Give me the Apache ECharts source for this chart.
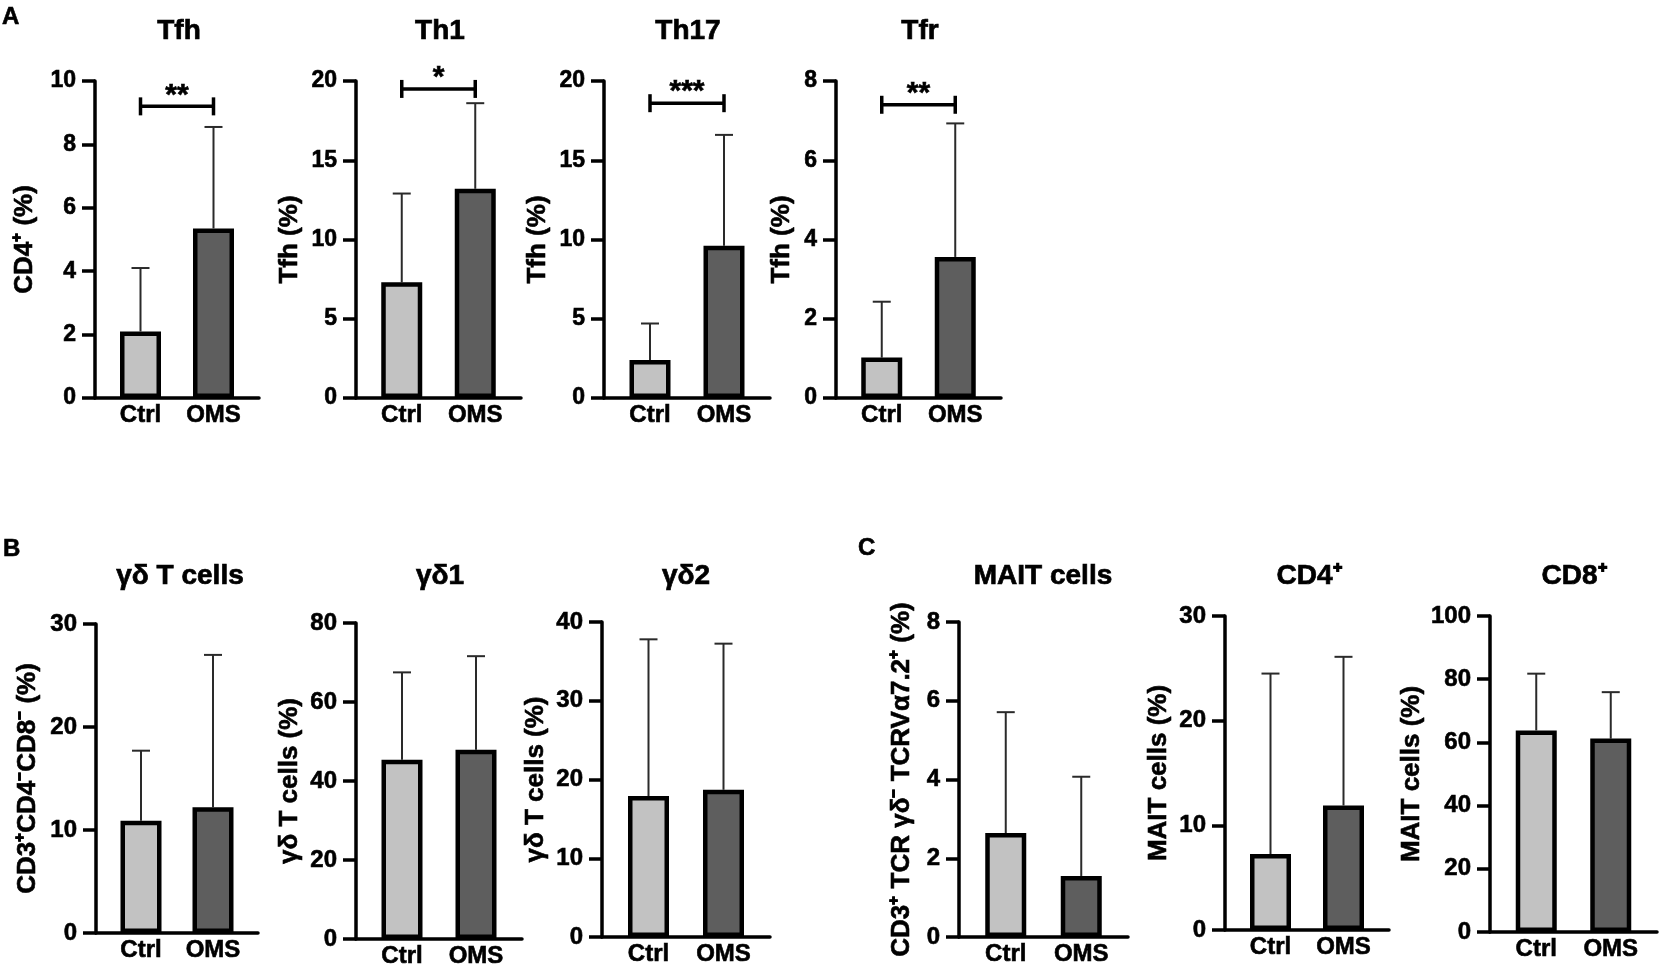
<!DOCTYPE html>
<html>
<head>
<meta charset="utf-8">
<script src="https://cdn.jsdelivr.net/npm/echarts@6/dist/echarts.min.js"></script>
<style>
  html, body { margin: 0; padding: 0; background: #fff; }
  #chart { width: 1661px; height: 976px; }
</style>
</head>
<body>
<div id="chart"></div>
<script>
// data
const categories = ['Ctrl', 'OMS'];
const panelTitles = ['Tfh', 'Th1', 'Th17', 'Tfr', 'γδ T cells', 'γδ1', 'γδ2', 'MAIT cells', 'CD4⁺', 'CD8⁺'];
const yAxisNames = ['CD4⁺ (%)', 'Tfh (%)', 'Tfh (%)', 'Tfh (%)',
  'CD3⁺CD4⁻CD8⁻ (%)', 'γδ T cells (%)', 'γδ T cells (%)',
  'CD3⁺ TCR γδ⁻ TCRVα7.2⁺ (%)', 'MAIT cells (%)', 'MAIT cells (%)'];
const ctrlMean = [2.1, 7.3, 2.4, 1.02, 10.9, 45.4, 17.9, 2.64, 7.25, 63.8];
const ctrlSD   = [2.0, 5.6, 2.3, 1.41, 6.8, 22.1, 19.9, 3.07, 17.25, 17.95];
const omsMean  = [5.35, 13.2, 9.6, 3.56, 12.2, 47.9, 18.7, 1.55, 11.9, 61.2];
const omsSD    = [3.2, 5.4, 7.0, 3.37, 14.8, 23.7, 18.55, 2.52, 14.2, 14.7];
const yMax  = [10, 20, 20, 8, 30, 80, 40, 8, 30, 100];
const yStep = [2, 5, 5, 2, 10, 20, 10, 2, 10, 20];
const sigStars = ['**', '*', '***', '**'];
const sigLevel = [9.2, 19.5, 18.6, 7.4];

// layout (px)
const axisX   = [95, 356, 604, 836, 96, 356, 602, 959, 1225, 1490];
const axisLen = [164, 165, 166, 165, 162, 166, 168, 169, 164, 167];
const topY    = [81, 81, 81, 81, 624, 623, 622, 622, 616, 616];
const zeroY   = [398, 398, 398, 398, 933, 939, 937, 937, 930, 932];
const nameGap = [57, 53, 53, 41, 55, 53, 53, 44, 53, 65];
const BAR_W = 41;
const SHIFT = 4.5;              // bars sit a little closer together than the band centres
const BAR_GAP = (2 * SHIFT - BAR_W) / BAR_W * 100 + '%';

const FONT = '"Liberation Sans", Arial, sans-serif';
const HEAVY = { textBorderColor: '#000', textBorderWidth: 0.6 };

const grids = [], xAxes = [], yAxes = [], series = [], graphics = [];

panelTitles.forEach((t, i) => {
  const rowA = i < 4;
  const tickSize = rowA ? 23 : 24;
  const catStyle = Object.assign({ color: '#000', fontWeight: 'bold', fontSize: 24, fontFamily: FONT }, HEAVY);
  grids.push({ left: axisX[i], top: topY[i], width: axisLen[i], height: zeroY[i] - topY[i] });
  xAxes.push({
    type: 'category', gridIndex: i, data: categories,
    axisLine: { lineStyle: { color: '#000', width: 3.5 } },
    axisTick: { show: false },
    axisLabel: {
      margin: 5,
      formatter: (v) => (v === categories[0] ? '{c|' + v + '}' : '{o|' + v + '}'),
      rich: {
        c: Object.assign({ padding: [0, 0, 0, SHIFT * 2] }, catStyle),
        o: Object.assign({ padding: [0, SHIFT * 2, 0, 0] }, catStyle)
      }
    }
  });
  yAxes.push({
    type: 'value', gridIndex: i, min: 0, max: yMax[i], interval: yStep[i],
    name: yAxisNames[i], nameLocation: 'middle', nameGap: nameGap[i],
    nameTextStyle: Object.assign({ color: '#000', fontWeight: 'bold', fontSize: 26, fontFamily: FONT }, HEAVY),
    axisLine: { show: true, lineStyle: { color: '#000', width: 3.5 } },
    axisTick: { show: true, length: 13, lineStyle: { color: '#000', width: 3.5 } },
    axisLabel: Object.assign({ color: '#000', fontWeight: 'bold', fontSize: tickSize, fontFamily: FONT, margin: 19 }, HEAVY),
    splitLine: { show: false }
  });
  // OMS series first so Ctrl takes the right slot in its band and OMS the left one
  series.push({
    type: 'bar', xAxisIndex: i, yAxisIndex: i, barWidth: BAR_W, barGap: BAR_GAP, z: 3,
    itemStyle: { color: '#5e5e5e', borderColor: '#000', borderWidth: 4.5 },
    data: [null, omsMean[i]]
  });
  series.push({
    type: 'bar', xAxisIndex: i, yAxisIndex: i, barWidth: BAR_W, barGap: BAR_GAP, z: 3,
    itemStyle: { color: '#c2c2c2', borderColor: '#000', borderWidth: 4.5 },
    data: [ctrlMean[i], null]
  });
  // error bars (mean + SD, upper only)
  series.push({
    type: 'custom', xAxisIndex: i, yAxisIndex: i, z: 2,
    encode: { x: 0, y: [1, 2] },
    data: [[0, ctrlMean[i], ctrlMean[i] + ctrlSD[i]], [1, omsMean[i], omsMean[i] + omsSD[i]]],
    renderItem: (params, api) => {
      const dx = api.value(0) === 0 ? SHIFT : -SHIFT;
      const a = api.coord([api.value(0), api.value(1)]);
      const b = api.coord([api.value(0), api.value(2)]);
      const x = a[0] + dx;
      const st = { stroke: '#2a2a2a', lineWidth: 2 };
      return { type: 'group', children: [
        { type: 'line', shape: { x1: x, y1: a[1], x2: x, y2: b[1] }, style: st },
        { type: 'line', shape: { x1: x - 9, y1: b[1], x2: x + 9, y2: b[1] }, style: st }
      ] };
    }
  });
  if (rowA) {
    series.push({
      type: 'custom', xAxisIndex: i, yAxisIndex: i, z: 4,
      encode: { x: [0, 1], y: 2 },
      data: [[0, 1, sigLevel[i]]],
      renderItem: (params, api) => {
        const a = api.coord([api.value(0), api.value(2)]);
        const b = api.coord([api.value(1), api.value(2)]);
        const x1 = a[0] + SHIFT, x2 = b[0] - SHIFT, y = a[1];
        const st = { stroke: '#000', lineWidth: 3.5 };
        return { type: 'group', children: [
          { type: 'line', shape: { x1: x1, y1: y, x2: x2, y2: y }, style: st },
          { type: 'line', shape: { x1: x1, y1: y - 9, x2: x1, y2: y + 9 }, style: st },
          { type: 'line', shape: { x1: x2, y1: y - 9, x2: x2, y2: y + 9 }, style: st },
          { type: 'text', x: (x1 + x2) / 2, y: y - 11,
            style: { text: sigStars[i], fill: '#000', font: 'bold 30px ' + FONT, stroke: '#000', lineWidth: 0.6,
              textAlign: 'center', align: 'center', textVerticalAlign: 'middle', verticalAlign: 'middle' } }
        ] };
      }
    });
  }
  graphics.push({
    type: 'text', x: axisX[i] + 84, y: rowA ? 31 : 576,
    style: { text: t, fill: '#000', font: 'bold 28px ' + FONT, stroke: '#000', lineWidth: 0.7,
      textAlign: 'center', align: 'center', textVerticalAlign: 'middle', verticalAlign: 'middle' }
  });
});

[['A', 2, 17], ['B', 3, 549], ['C', 858, 548]].forEach(([l, x, y]) => {
  graphics.push({
    type: 'text', x: x, y: y,
    style: { text: l, fill: '#000', font: 'bold 24px ' + FONT, stroke: '#000', lineWidth: 0.6,
      textAlign: 'left', align: 'left', textVerticalAlign: 'middle', verticalAlign: 'middle' }
  });
});

const chart = echarts.init(document.getElementById('chart'));
chart.setOption({
  animation: false,
  backgroundColor: '#fff',
  grid: grids,
  xAxis: xAxes,
  yAxis: yAxes,
  series: series,
  graphic: graphics
});
</script>
</body>
</html>
